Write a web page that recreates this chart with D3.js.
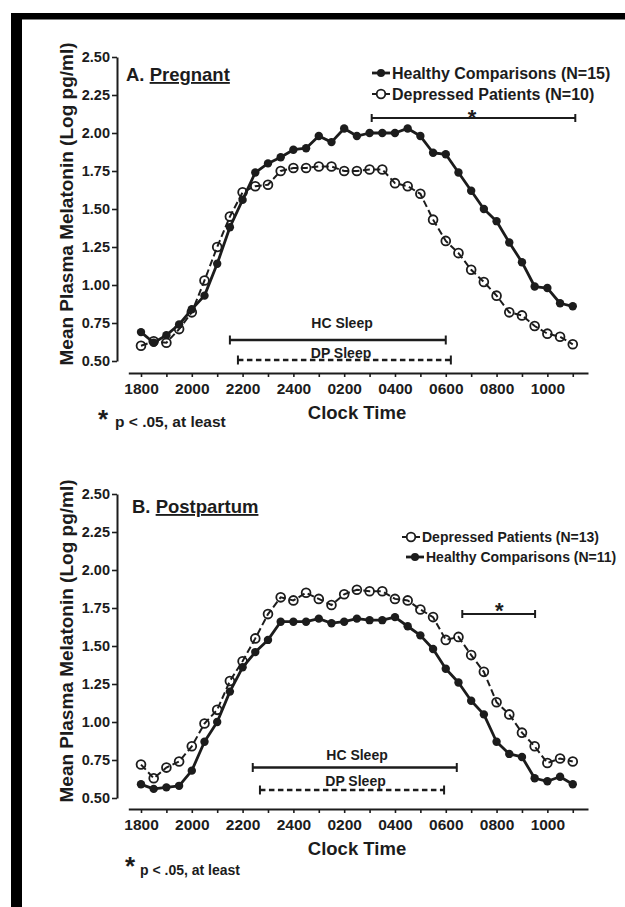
<!DOCTYPE html>
<html><head><meta charset="utf-8">
<script src="https://cdn.jsdelivr.net/npm/d3@7"></script>
<style>
body{margin:0;background:#fff}
svg{display:block}
text{font-family:"Liberation Sans",Arial,Helvetica,sans-serif;font-weight:bold;fill:#1c1c1c}
</style>
</head><body>
<svg id="c" width="625" height="907"></svg>
<script>
// ---------- data ----------
const sampleTimes = ["1800","1830","1900","1930","2000","2030","2100","2130","2200","2230","2300","2330","2400","0030","0100","0130","0200","0230","0300","0330","0400","0430","0500","0530","0600","0630","0700","0730","0800","0830","0900","0930","1000","1030","1100"];
const xTickLabels = ["1800","2000","2200","2400","0200","0400","0600","0800","1000"];
const xMinorTicks = ["1800","1900","2000","2100","2200","2300","2400","0100","0200","0300","0400","0500","0600","0700","0800","0900","1000","1100"];
const yTickValues = [0.50,0.75,1.00,1.25,1.50,1.75,2.00,2.25,2.50];

const pregHC = [0.69,0.62,0.67,0.74,0.84,0.93,1.14,1.38,1.56,1.74,1.80,1.84,1.89,1.90,1.98,1.94,2.03,1.98,2.00,2.00,2.00,2.03,1.98,1.87,1.86,1.74,1.62,1.50,1.42,1.28,1.15,0.99,0.98,0.88,0.86];
const pregDP = [0.60,0.63,0.62,0.71,0.82,1.03,1.25,1.45,1.61,1.65,1.66,1.75,1.77,1.77,1.78,1.78,1.75,1.75,1.76,1.76,1.67,1.65,1.60,1.43,1.29,1.21,1.10,1.02,0.93,0.82,0.80,0.73,0.68,0.66,0.61];
const postHC = [0.59,0.56,0.57,0.58,0.68,0.87,1.00,1.20,1.36,1.46,1.54,1.66,1.66,1.66,1.68,1.65,1.66,1.68,1.67,1.67,1.69,1.63,1.57,1.48,1.35,1.26,1.14,1.05,0.87,0.79,0.77,0.63,0.61,0.64,0.59];
const postDP = [0.72,0.63,0.70,0.74,0.84,0.99,1.08,1.27,1.40,1.55,1.71,1.82,1.80,1.85,1.81,1.77,1.84,1.87,1.86,1.86,1.81,1.80,1.74,1.69,1.54,1.56,1.44,1.33,1.13,1.05,0.93,0.84,0.73,0.76,0.74];

const pregHCSleep = ["2130","0600"];
const pregDPSleep = ["2149","0612"];
const postHCSleep = ["2224","0626"];
const postDPSleep = ["2241","0556"];
const pregSignif = ["0305","1106"];
const postSignif = ["0639","0931"];

const pregLegend = [["hc","Healthy Comparisons (N=15)"],["dp","Depressed Patients (N=10)"]];
const postLegend = [["dp","Depressed Patients (N=13)"],["hc","Healthy Comparisons (N=11)"]];

// ---------- helpers ----------
const hrs = s => { const h = +s.slice(0,2), m = +s.slice(2); return ((h + m/60 - 18) % 24 + 24) % 24; };
const svg = d3.select("#c");
svg.append("rect").attr("width",625).attr("height",907).attr("fill","#fff");
// black frame
svg.append("rect").attr("x",11).attr("y",13).attr("width",614).attr("height",6.5).attr("fill","#000");
svg.append("rect").attr("x",11).attr("y",13).attr("width",11).attr("height",894).attr("fill","#000");

function panel(o){
  const g = svg.append("g");
  const x = d3.scaleLinear().domain([-0.5,17.6]).range([128.3,588]);
  const y = d3.scaleLinear().domain([0.5,2.5]).range([o.y0, o.y0-304]);
  const ink = "#1c1c1c";

  // y axis
  const ya = g.append("g").attr("transform","translate(117,0)")
    .call(d3.axisLeft(y).tickValues(yTickValues).tickFormat(d3.format(".2f")).tickSize(5).tickSizeOuter(0).tickPadding(2));
  ya.select(".domain").attr("stroke",ink).attr("stroke-width",2);
  ya.selectAll(".tick line").attr("stroke",ink).attr("stroke-width",1.6);
  ya.selectAll("text").style("font-size","14.5px").attr("fill",ink).style("font-family",'"Liberation Sans",Arial,sans-serif').style("font-weight","bold");

  // x axis
  const xa = g.append("g").attr("transform",`translate(0,${o.xAxisY})`)
    .call(d3.axisBottom(x).tickValues(xMinorTicks.map(hrs)).tickSize(4).tickSizeOuter(0)
      .tickFormat(d => { const l = xTickLabels.find(s => hrs(s) === d); return l || ""; }));
  xa.select(".domain").attr("stroke",ink).attr("stroke-width",2);
  xa.selectAll(".tick line").attr("stroke",ink).attr("stroke-width",1.6);
  xa.selectAll("text").attr("y",20.5).attr("dy",null).style("font-size","15.5px").attr("fill",ink)
    .style("font-family",'"Liberation Sans",Arial,sans-serif').style("font-weight","bold");

  // axis titles
  g.append("text").attr("x",357).attr("y",o.xAxisY+45.5).attr("text-anchor","middle").style("font-size","18.5px").text("Clock Time");
  g.append("text").attr("transform",`translate(73,${o.y0-157}) rotate(-90)`).attr("text-anchor","middle").style("font-size","19px").text("Mean Plasma Melatonin (Log pg/ml)");

  // panel title
  const t = g.append("text").attr("x",o.titleX).attr("y",o.titleY).style("font-size","18.5px");
  t.append("tspan").text(o.titleA);
  t.append("tspan").style("text-decoration","underline").text(o.titleB);

  // sleep bars
  function bar(span, yy, dashed){
    const x1 = x(hrs(span[0])), x2 = x(hrs(span[1]));
    g.append("line").attr("x1",x1).attr("x2",x2).attr("y1",yy).attr("y2",yy).attr("stroke",ink).attr("stroke-width",2.5)
      .attr("stroke-dasharray",dashed?"5.5,3.5":null);
    [x1,x2].forEach(xx => g.append("line").attr("x1",xx).attr("x2",xx).attr("y1",yy-4.5).attr("y2",yy+4.5).attr("stroke",ink).attr("stroke-width",2));
  }
  bar(o.hcSleep, o.hcSleepY, false);
  bar(o.dpSleep, o.dpSleepY, true);
  g.append("text").attr("x",o.hcTextX).attr("y",o.hcTextY).attr("text-anchor","middle").style("font-size","14px").text("HC Sleep");
  g.append("text").attr("x",o.dpTextX).attr("y",o.dpTextY).attr("text-anchor","middle").style("font-size","14px").text("DP Sleep");

  // significance bracket
  const s1 = x(hrs(o.signif[0])), s2 = x(hrs(o.signif[1]));
  g.append("line").attr("x1",s1).attr("x2",s2).attr("y1",o.sigY).attr("y2",o.sigY).attr("stroke",ink).attr("stroke-width",2);
  [s1,s2].forEach(xx => g.append("line").attr("x1",xx).attr("x2",xx).attr("y1",o.sigY-4).attr("y2",o.sigY+4).attr("stroke",ink).attr("stroke-width",2));
  g.append("text").attr("x",(s1+s2)/2+o.starDx).attr("y",o.sigY+o.starDy).attr("text-anchor","middle").style("font-size","22px").text("*");

  // footnote
  g.append("text").attr("x",o.fnStarX).attr("y",o.fnStarY).style("font-size","26px").text("*");
  g.append("text").attr("x",o.fnX).attr("y",o.fnY).style("font-size",o.fnSize).text("p < .05, at least");

  // data
  const pts = (vals) => vals.map((v,i) => [hrs(sampleTimes[i]), v]);
  const line = d3.line().x(d => x(d[0])).y(d => y(d[1]));
  const dp = pts(o.dp), hc = pts(o.hc);
  g.append("path").attr("d",line(dp)).attr("fill","none").attr("stroke",ink).attr("stroke-width",2).attr("stroke-dasharray","7,3.5");
  g.append("path").attr("d",line(hc)).attr("fill","none").attr("stroke",ink).attr("stroke-width",2.8).attr("stroke-linejoin","round");
  g.selectAll(null).data(dp).join("circle").attr("cx",d=>x(d[0])).attr("cy",d=>y(d[1])).attr("r",4.4)
    .attr("fill","none").attr("stroke",ink).attr("stroke-width",1.8);
  g.selectAll(null).data(hc).join("circle").attr("cx",d=>x(d[0])).attr("cy",d=>y(d[1])).attr("r",4.2).attr("fill",ink);

  // legend
  o.legend.forEach((it,i) => {
    const ly = o.legY[i], lx = o.legX[i];
    const lg = g.append("g");
    if (it[0] === "hc") {
      lg.append("line").attr("x1",lx).attr("x2",lx+18).attr("y1",ly).attr("y2",ly).attr("stroke",ink).attr("stroke-width",2.8);
      lg.append("circle").attr("cx",lx+9).attr("cy",ly).attr("r",4).attr("fill",ink);
    } else {
      lg.append("line").attr("x1",lx).attr("x2",lx+18).attr("y1",ly).attr("y2",ly).attr("stroke",ink).attr("stroke-width",2);
      lg.append("circle").attr("cx",lx+9).attr("cy",ly).attr("r",4.3).attr("fill","#fff").attr("stroke",ink).attr("stroke-width",1.8);
    }
    lg.append("text").attr("x",lx+20).attr("y",ly).attr("dy","0.36em").style("font-size",o.legSize).text(it[1]);
  });
}

panel({
  y0:361, xAxisY:373, titleX:126, titleY:81, titleA:"A. ", titleB:"Pregnant",
  hc:pregHC, dp:pregDP, hcSleep:pregHCSleep, dpSleep:pregDPSleep, hcSleepY:340, dpSleepY:360,
  hcTextX:342, hcTextY:328, dpTextX:341, dpTextY:357.5,
  signif:pregSignif, sigY:118, starDx:-1.5, starDy:6.5,
  fnStarX:98, fnStarY:428, fnX:115, fnY:427, fnSize:"15.5px",
  legend:pregLegend, legX:[372,372], legY:[73,94], legSize:"16px"
});
panel({
  y0:798, xAxisY:809, titleX:132, titleY:513, titleA:"B. ", titleB:"Postpartum",
  hc:postHC, dp:postDP, hcSleep:postHCSleep, dpSleep:postDPSleep, hcSleepY:767.5, dpSleepY:790,
  hcTextX:357, hcTextY:760, dpTextX:355.5, dpTextY:786,
  signif:postSignif, sigY:614, starDx:0.5, starDy:4,
  fnStarX:125, fnStarY:875, fnX:140, fnY:875, fnSize:"14px",
  legend:postLegend, legX:[402,406], legY:[537,557], legSize:"14px"
});
</script>
</body></html>
